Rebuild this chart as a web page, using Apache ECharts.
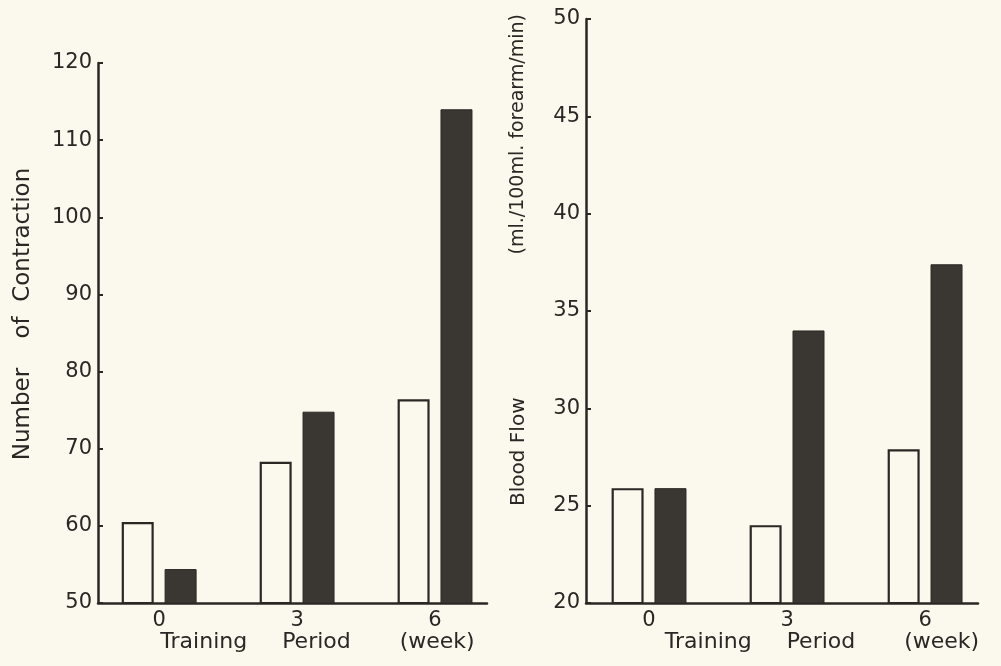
<!DOCTYPE html>
<html>
<head>
<meta charset="utf-8">
<script src="https://cdn.jsdelivr.net/npm/echarts@6/dist/echarts.min.js"></script>
<style>
  html, body { margin: 0; padding: 0; background: #fbf9ee; }
  #chart { width: 1001px; height: 666px; }
</style>
</head>
<body>
<div id="chart"></div>
<script>
// Training period in weeks (x positions of the bar pairs)
const weeks = [0, 3, 6];

// Left panel: number of contractions
const contractionOpen  = [60.5, 68.3, 76.4];
const contractionSolid = [54.4, 74.8, 114.0];

// Right panel: blood flow (ml./100ml. forearm/min)
const flowOpen  = [25.9, 24.0, 27.9];
const flowSolid = [25.9, 34.0, 37.4];

const ink = '#2a2724';
const paper = '#fbf9ee';
const font = 'DejaVu Sans';

const pairs = (vals) => weeks.map((w, i) => [w, vals[i]]);

function xAxisFor(gridIndex, min, max, namePad) {
  return {
    type: 'value', gridIndex, min, max,
    name: 'Training     Period       (week)',
    nameLocation: 'middle', nameGap: 28, nameMoveOverlap: false,
    nameTextStyle: { color: ink, fontFamily: font, fontSize: 22, padding: [0, 0, 0, namePad] },
    axisLine: { show: true, onZero: false, lineStyle: { color: ink, width: 2.5 } },
    axisTick: { show: false },
    splitLine: { show: false },
    axisLabel: { customValues: weeks, color: ink, fontFamily: font, fontSize: 21, margin: 7 }
  };
}

function yAxisFor(gridIndex, min, max, interval, name, nameGap, nameStyle) {
  return {
    type: 'value', gridIndex, min, max, interval,
    name, nameLocation: 'middle', nameGap, nameMoveOverlap: false,
    nameTextStyle: Object.assign({ color: ink, fontFamily: font, fontSize: 23 }, nameStyle || {}),
    axisLine: { show: true, onZero: false, lineStyle: { color: ink, width: 2.5 } },
    axisTick: { show: true, inside: true, length: 5, lineStyle: { color: ink, width: 2 } },
    splitLine: { show: false },
    axisLabel: { color: ink, fontFamily: font, fontSize: 21, margin: 6 }
  };
}

function barSeries(axisIndex, vals, solid) {
  return {
    type: 'bar', xAxisIndex: axisIndex, yAxisIndex: axisIndex,
    data: pairs(vals), barWidth: 32, barGap: '34%',
    itemStyle: solid
      ? { color: '#3a3632', borderColor: '#2c2926', borderWidth: 1 }
      : { color: paper, borderColor: ink, borderWidth: 2.2 },
    silent: true
  };
}

const chart = echarts.init(document.getElementById('chart'), null, { renderer: 'canvas' });
chart.setOption({
  backgroundColor: paper,
  animation: false,
  grid: [
    { left: 98, top: 63, width: 389, height: 540 },
    { left: 586, top: 19, width: 392, height: 584 }
  ],
  xAxis: [
    xAxisFor(0, -1.33, 7.13, 50),
    xAxisFor(1, -1.37, 7.15, 80)
  ],
  yAxis: [
    yAxisFor(0, 50, 120, 10, 'Number    of  Contraction', 63, { padding: [0, 0, 0, 38] }),
    yAxisFor(1, 20, 50, 5,
      '{a|Blood Flow}{gap|}{b|(ml./100ml. forearm/min)}', 56,
      { rich: {
          a: { color: ink, fontFamily: font, fontSize: 20 },
          gap: { width: 143 },
          b: { color: ink, fontFamily: font, fontSize: 19 }
        },
        padding: [0, 0, 0, 102] })
  ],
  series: [
    barSeries(0, contractionOpen, false),
    barSeries(0, contractionSolid, true),
    barSeries(1, flowOpen, false),
    barSeries(1, flowSolid, true)
  ]
});
</script>
</body>
</html>
